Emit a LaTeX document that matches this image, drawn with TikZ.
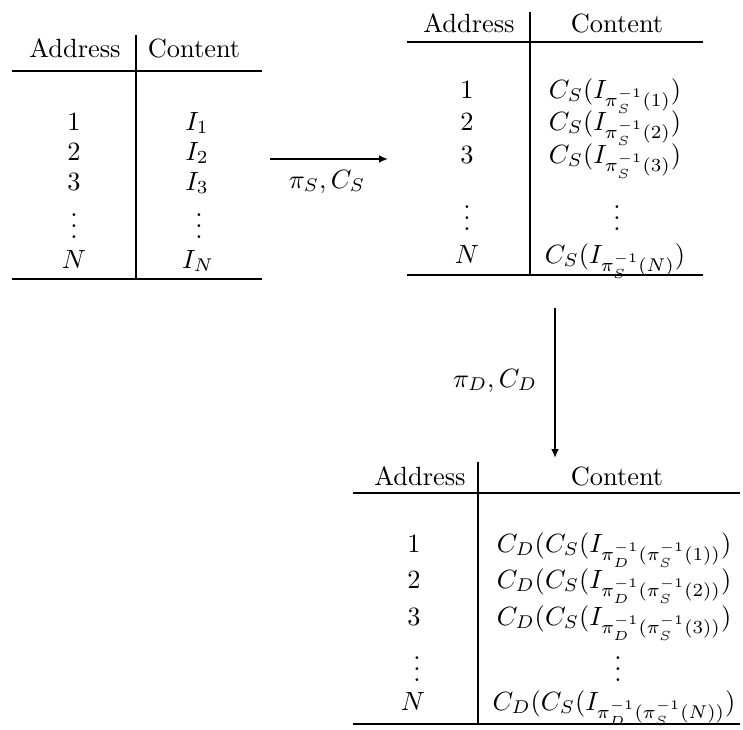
\documentclass[tikz,border=0pt]{standalone}
\usetikzlibrary{arrows.meta}
\newcommand\colvdots{\vbox{\baselineskip4pt\lineskiplimit0pt\hbox{.}\hbox{.}\hbox{.}}}
\begin{document}
\begin{tikzpicture}[x=0.379pt,y=-0.379pt,
  cell/.style={anchor=base,inner sep=0pt,outer sep=0pt},
  rule/.style={line width=0.9pt},
  vrule/.style={line width=0.7pt},
  conn/.style={line width=0.8pt,-{Latex[length=3.4pt,width=3pt]}}]
\useasboundingbox (0,0) rectangle (743,729);
% ---------- table 1 ----------
\draw[rule] (12,71) -- (262,71);
\draw[rule] (12,279) -- (262,279);
\draw[vrule] (136,35) -- (136,279);
\node[cell] (t1ha) at (75,57) {Address};
\node[cell] (t1hc) at (194,57) {Content};
\node[cell] (t1a1) at (74,130) {$1$};
\node[cell] (t1a2) at (74,160) {$2$};
\node[cell] (t1a3) at (74,190) {$3$};
\node[cell] (t1ad) at (74,238) {\colvdots};
\node[cell] (t1aN) at (74,268) {$N$};
\node[cell] (t1c1) at (197,130) {$I_1$};
\node[cell] (t1c2) at (197,160) {$I_2$};
\node[cell] (t1c3) at (197,190) {$I_3$};
\node[cell] (t1cd) at (199,238) {\colvdots};
\node[cell] (t1cN) at (198,268) {$I_N$};
% ---------- table 2 ----------
\draw[rule] (407,42) -- (703,42);
\draw[rule] (407,275) -- (703,275);
\draw[vrule] (530,12) -- (530,275);
\node[cell] (t2ha) at (469,32) {Address};
\node[cell] (t2hc) at (617,32) {Content};
\node[cell] (t2a1) at (467,98) {$1$};
\node[cell] (t2a2) at (467,130) {$2$};
\node[cell] (t2a3) at (467,163) {$3$};
\node[cell] (t2ad) at (467,230) {\colvdots};
\node[cell] (t2aN) at (467,263) {$N$};
\node[cell] (t2c1) at (615,98) {$C_S(I_{\pi_S^{-1}(1)})$};
\node[cell] (t2c2) at (615,130) {$C_S(I_{\pi_S^{-1}(2)})$};
\node[cell] (t2c3) at (615,163) {$C_S(I_{\pi_S^{-1}(3)})$};
\node[cell] (t2cd) at (617,230) {\colvdots};
\node[cell] (t2cN) at (615,263) {$C_S(I_{\pi_S^{-1}(N)})$};
% ---------- table 3 ----------
\draw[rule] (353,493) -- (740,493);
\draw[rule] (353,724) -- (740,724);
\draw[vrule] (478,462) -- (478,724);
\node[cell] (t3ha) at (420,485) {Address};
\node[cell] (t3hc) at (617,485) {Content};
\node[cell] (t3a1) at (414,552) {$1$};
\node[cell] (t3a2) at (414,588) {$2$};
\node[cell] (t3a3) at (414,625) {$3$};
\node[cell] (t3ad) at (417,681) {\colvdots};
\node[cell] (t3aN) at (413,710) {$N$};
\node[cell] (t3c1) at (614,552) {$C_D(C_S(I_{\pi_D^{-1}(\pi_S^{-1}(1))})$};
\node[cell] (t3c2) at (614,588) {$C_D(C_S(I_{\pi_D^{-1}(\pi_S^{-1}(2))})$};
\node[cell] (t3c3) at (614,625) {$C_D(C_S(I_{\pi_D^{-1}(\pi_S^{-1}(3))})$};
\node[cell] (t3cd) at (618,681) {\colvdots};
\node[cell] (t3cN) at (614,710) {$C_D(C_S(I_{\pi_D^{-1}(\pi_S^{-1}(N))})$};
% ---------- connectors ----------
\coordinate (h1) at (270,159);
\coordinate (h2) at (388,159);
\draw[conn] (h1) -- (h2);
\node[cell] (lS) at (327,188) {$\pi_S, C_S$};
\coordinate (v1) at (555,308);
\coordinate (v2) at (555,458);
\draw[conn] (v1) -- (v2);
\node[cell] (lD) at (495,387) {$\pi_D, C_D$};
\end{tikzpicture}
\end{document}
